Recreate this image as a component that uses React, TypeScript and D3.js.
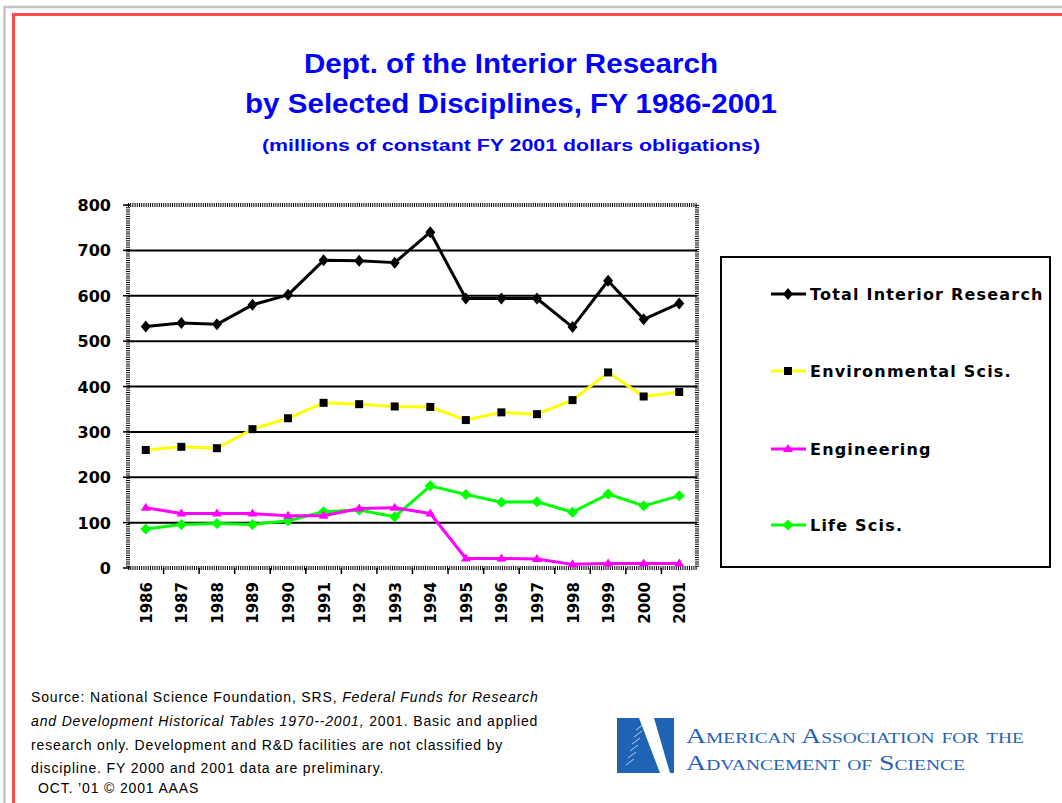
import { useEffect, useRef } from 'react';
import * as d3 from 'd3';

const years = ['1986', '1987', '1988', '1989', '1990', '1991', '1992', '1993', '1994', '1995', '1996', '1997', '1998', '1999', '2000', '2001'];
const totalResearch = [532, 540, 537, 580, 602, 678, 677, 673, 740, 594, 594, 594, 531, 633, 548, 583];
const envSciences = [260, 267, 264, 306, 330, 364, 361, 356, 355, 326, 343, 339, 370, 431, 378, 388];
const engineering = [133, 120, 120, 120, 115, 115, 131, 133, 120, 21, 21, 20, 8, 10, 10, 10];
const lifeSciences = [86, 96, 98, 96, 104, 124, 128, 113, 181, 162, 145, 146, 123, 163, 137, 159];
const yTicks = [0, 100, 200, 300, 400, 500, 600, 700, 800];

const seriesNames = ['Total Interior Research', 'Environmental Scis.', 'Engineering', 'Life Scis.'];
const seriesColors = ['#000000', '#ffff00', '#ff00ff', '#00ff00'];
const markerColors = ['#000000', '#000000', '#ff00ff', '#00ff00'];
const markerKinds = ['diamond', 'square', 'triangle', 'diamondSmall'];

const W = 1062;
const H = 803;
const FONT = "'DejaVu Sans', Verdana, sans-serif";

function markerPath(kind) {
  if (kind === 'diamond') return 'M0,-6L5,0L0,6L-5,0Z';
  if (kind === 'diamondSmall') return 'M0,-5.5L5.5,0L0,5.5L-5.5,0Z';
  if (kind === 'square') return 'M-4,-4H4V4H-4Z';
  return 'M0,-5L5,3H-5Z';
}

function App() {
  const svgRef = useRef();

  useEffect(() => {
    const root = d3.select(svgRef.current);
    root.selectAll('*').remove();
    const svg = root.attr('width', W).attr('height', H);

    svg.append('rect').attr('width', W).attr('height', H).attr('fill', '#ffffff');

    // window frame
    svg.append('path').attr('d', `M4.5,${H}V7H${W}`).attr('fill', 'none').attr('stroke', '#c4c4c4').attr('stroke-width', 2.5);
    svg.append('path').attr('d', `M13.5,${H}V14.5H${W}`).attr('fill', 'none').attr('stroke', '#ff4a4a').attr('stroke-width', 3);

    // titles
    const titles = [
      { text: 'Dept. of the Interior Research', y: 73, size: 27, len: 414 },
      { text: 'by Selected Disciplines, FY 1986-2001', y: 113, size: 27, len: 532 },
      { text: '(millions of constant FY 2001 dollars obligations)', y: 151, size: 16, len: 498 },
    ];
    svg
      .selectAll('text.title')
      .data(titles)
      .enter()
      .append('text')
      .attr('class', 'title')
      .attr('x', 511)
      .attr('y', t => t.y)
      .attr('text-anchor', 'middle')
      .attr('textLength', t => t.len)
      .attr('lengthAdjust', 'spacingAndGlyphs')
      .style('font-family', "'Liberation Sans', Arial, sans-serif")
      .style('font-weight', 'bold')
      .style('font-size', t => `${t.size}px`)
      .style('fill', '#0000ff')
      .text(t => t.text);

    const x = d3.scaleBand().domain(years).range([128, 697]);
    const y = d3.scaleLinear().domain([0, 800]).range([568, 205]);

    const plot = svg.append('g');

    // gridlines
    plot
      .selectAll('line.grid')
      .data(yTicks.filter(v => v > 0 && v < 800))
      .enter()
      .append('line')
      .attr('x1', 128)
      .attr('x2', 697)
      .attr('y1', d => y(d))
      .attr('y2', d => y(d))
      .attr('stroke', '#000')
      .attr('stroke-width', 2);

    // hatched frame of the plot
    const frame = [
      [128, y(800), 697, y(800)],
      [128, y(0), 697, y(0)],
      [128, y(800), 128, y(0)],
      [697, y(800), 697, y(0)],
    ];
    plot
      .selectAll('line.frame')
      .data(frame)
      .enter()
      .append('line')
      .attr('x1', d => d[0])
      .attr('y1', d => d[1])
      .attr('x2', d => d[2])
      .attr('y2', d => d[3])
      .attr('stroke', '#000')
      .attr('stroke-width', 4)
      .attr('stroke-dasharray', '1 1.2');

    // y ticks and labels
    plot
      .selectAll('line.ytick')
      .data(yTicks)
      .enter()
      .append('line')
      .attr('x1', 123)
      .attr('x2', 130)
      .attr('y1', d => y(d))
      .attr('y2', d => y(d))
      .attr('stroke', '#000')
      .attr('stroke-width', 1.5);

    plot
      .selectAll('text.ylab')
      .data(yTicks)
      .enter()
      .append('text')
      .attr('x', 111)
      .attr('y', d => y(d) + 6)
      .attr('text-anchor', 'end')
      .style('font-family', FONT)
      .style('font-weight', 'bold')
      .style('font-size', '16px')
      .text(d => d);

    // x ticks (band boundaries) and rotated labels
    plot
      .selectAll('line.xtick')
      .data(years.slice(1))
      .enter()
      .append('line')
      .attr('x1', d => x(d))
      .attr('x2', d => x(d))
      .attr('y1', y(0))
      .attr('y2', y(0) + 6)
      .attr('stroke', '#000')
      .attr('stroke-width', 1.5);

    plot
      .selectAll('text.xlab')
      .data(years)
      .enter()
      .append('text')
      .attr('transform', d => `translate(${x(d) + x.bandwidth() / 2 + 6},582) rotate(-90)`)
      .attr('text-anchor', 'end')
      .style('font-family', FONT)
      .style('font-weight', 'bold')
      .style('font-size', '15px')
      .text(d => d);

    // series
    const allSeries = [totalResearch, envSciences, engineering, lifeSciences];
    const line = d3
      .line()
      .x((_, i) => x(years[i]) + x.bandwidth() / 2)
      .y(d => y(d));

    const drawOrder = [1, 3, 2, 0];
    drawOrder.forEach(si => {
      const values = allSeries[si];
      const g = plot.append('g');
      g.append('path')
        .attr('d', line(values))
        .attr('fill', 'none')
        .attr('stroke', seriesColors[si])
        .attr('stroke-width', 3)
        .attr('stroke-linejoin', 'round');
      g.selectAll('path.mk')
        .data(values)
        .enter()
        .append('path')
        .attr('d', markerPath(markerKinds[si]))
        .attr('transform', (d, i) => `translate(${x(years[i]) + x.bandwidth() / 2},${y(d)})`)
        .attr('fill', markerColors[si]);
    });

    // legend
    svg
      .append('rect')
      .attr('x', 721)
      .attr('y', 257)
      .attr('width', 329)
      .attr('height', 310)
      .attr('fill', 'none')
      .attr('stroke', '#000')
      .attr('stroke-width', 2);

    const legendY = [294, 371, 449, 525];
    const legend = svg
      .selectAll('g.legend')
      .data(seriesNames)
      .enter()
      .append('g')
      .attr('class', 'legend')
      .attr('transform', (_, i) => `translate(0,${legendY[i]})`);

    legend
      .append('line')
      .attr('x1', 771)
      .attr('x2', 806)
      .attr('stroke', (_, i) => seriesColors[i])
      .attr('stroke-width', 3);

    legend
      .append('path')
      .attr('d', (_, i) => markerPath(markerKinds[i]))
      .attr('transform', 'translate(788,0)')
      .attr('fill', (_, i) => markerColors[i]);

    legend
      .append('text')
      .attr('x', 810)
      .attr('y', 6)
      .style('font-family', FONT)
      .style('font-weight', 'bold')
      .style('font-size', '16px')
      .style('letter-spacing', '1.2px')
      .text(d => d);

    // source note
    const note = svg
      .append('g')
      .style('font-family', "'Liberation Sans', Arial, sans-serif")
      .style('font-size', '14px')
      .style('letter-spacing', '0.85px')
      .style('fill', '#000');

    const l1 = note.append('text').attr('x', 31).attr('y', 702);
    l1.append('tspan').text('Source: National Science Foundation, SRS, ');
    l1.append('tspan').style('font-style', 'italic').text('Federal Funds for Research');

    const l2 = note.append('text').attr('x', 31).attr('y', 726);
    l2.append('tspan').style('font-style', 'italic').text('and Development  Historical Tables 1970--2001,');
    l2.append('tspan').text(' 2001. Basic and applied');

    note.append('text').attr('x', 31).attr('y', 750).text('research only. Development and R&D facilities are not classified by');
    note.append('text').attr('x', 31).attr('y', 773).text('discipline. FY 2000 and 2001 data are preliminary.');
    note.append('text').attr('x', 38).attr('y', 793).text('OCT.  \u201901 \u00a9 2001 AAAS');

    // AAAS logo
    const logoBlue = '#1f64b4';
    const logo = svg.append('g');
    logo.append('path').attr('d', 'M617,718H639L660,773H617Z').attr('fill', logoBlue);
    logo.append('path').attr('d', 'M654,718H674V773H670Z').attr('fill', logoBlue);
    d3.range(6).forEach(k => {
      logo
        .append('path')
        .attr('d', `M${626 + k * 2},${765 - k * 7}l8,-6`)
        .attr('stroke', '#ffffff')
        .attr('stroke-width', 1)
        .attr('opacity', 0.7);
    });

    const logoText = [
      { text: 'American Association for the', y: 743, len: 338 },
      { text: 'Advancement of Science', y: 770, len: 279 },
    ];
    logo
      .selectAll('text')
      .data(logoText)
      .enter()
      .append('text')
      .attr('x', 686)
      .attr('y', d => d.y)
      .attr('textLength', d => d.len)
      .attr('lengthAdjust', 'spacingAndGlyphs')
      .style('font-family', "'Liberation Serif', 'DejaVu Serif', serif")
      .style('font-variant', 'small-caps')
      .style('font-size', '20px')
      .style('fill', logoBlue)
      .text(d => d.text);
  }, []);

  return <svg ref={svgRef} style={{ position: 'absolute', left: 0, top: 0, display: 'block' }} />;
}

export default App;
